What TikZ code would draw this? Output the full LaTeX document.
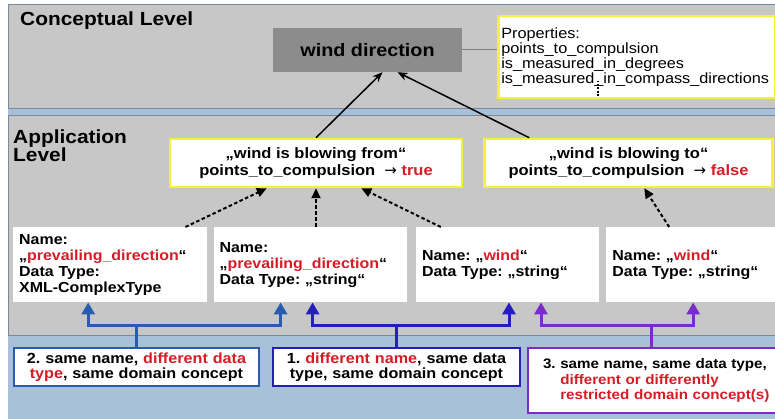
\documentclass[tikz,border=0pt]{standalone}
\usepackage{fontspec}
\setmainfont{Liberation Sans}[FakeStretch=1.1]
\newfontfamily\arrowfont{DejaVu Sans}
\usetikzlibrary{positioning,arrows.meta}
\definecolor{bgblue}{RGB}{168,192,218}
\definecolor{panelgray}{RGB}{199,199,199}
\definecolor{panelline}{RGB}{122,136,156}
\definecolor{conceptgray}{RGB}{140,140,140}
\definecolor{boxyellow}{RGB}{244,242,60}
\definecolor{hired}{RGB}{214,28,38}
\definecolor{linkblue}{RGB}{40,92,172}
\definecolor{linkindigo}{RGB}{36,30,186}
\definecolor{linkviolet}{RGB}{122,44,200}
\newcommand{\hl}[1]{\textcolor{hired}{#1}}
\newcommand{\qt}[1]{„#1“}
\newcommand{\fs}[2]{\fontsize{#1}{#2}\selectfont}
\newcommand{\implies}{{\arrowfont\mdseries →}}
\frenchspacing

\begin{document}
\begin{tikzpicture}[x=1pt,y=-1pt,
  level/.style={fill=panelgray,draw=panelline,line width=1pt},
  leveltitle/.style={anchor=north west,inner sep=0pt,align=left,font=\bfseries\fs{19}{18}},
  concept/.style={fill=conceptgray,minimum width=189pt,minimum height=44pt,font=\bfseries\fs{18}{20}},
  propbox/.style={draw=boxyellow,fill=white,line width=2.5pt,anchor=north west,align=left,
    inner xsep=3pt,text width=271pt,minimum height=82pt,font=\fs{14.8}{15}},
  claim/.style={draw=boxyellow,fill=white,line width=2.5pt,align=center,minimum height=48pt,
    font=\bfseries\fs{15}{16.5}},
  databox/.style={fill=white,anchor=north west,align=left,inner xsep=6pt,minimum height=75pt,
    text width=#1,font=\bfseries\fs{14.5}{16}},
  casebox/.style={draw=#1,fill=white,line width=2pt,anchor=north west,font=\bfseries\fs{14.7}{15.5}},
  sem/.style={line width=1.5pt,-{Stealth[length=10pt,width=8pt]}},
  impl/.style={line width=2pt,dash pattern=on 3.5pt off 2.5pt,-{Triangle[length=10pt,width=9pt]}},
  link/.style={draw=#1,line width=3pt,-{Triangle[length=12pt,width=13pt]}}]
\useasboundingbox (0,0) rectangle (775,419);
\fill[white] (0,0) rectangle (775,419);
\fill[bgblue] (8,5) rectangle (775,419);
\draw[level] (8,5) rectangle (777,109);
\draw[level] (8,116) rectangle (777,335);

% conceptual level
\node[leveltitle] (cl) at (20,12) {Conceptual Level};
\node[concept] (wd) at (367.5,50) {wind direction};
\node[propbox] (prop) at (497,15) {Properties:\\points\_to\_compulsion\\is\_measured\_in\_degrees\\
  is\_measured\_in\_compass\_directions};
\draw[line width=1pt,gray] (wd.east) -- (wd.east -| prop.west);
\draw[line width=2.5pt,dash pattern=on 2pt off 1.5pt] ([xshift=101pt,yshift=3pt]prop.south west) -- ++(0,-15);

% application level
\node[leveltitle] (al) at (13,130) {Application\\Level};
\node[claim,minimum width=292pt] (from) at (316,163) {\qt{wind is blowing from}\\
  points\_to\_compulsion \ \implies\ \hl{true}};
\node[claim,minimum width=288pt,right=20pt of from] (to) {\qt{wind is blowing to}\\
  points\_to\_compulsion \ \implies\ \hl{false}};
\draw[sem] (from.north) -- ([xshift=15pt]wd.south);
\draw[sem] ([xshift=46pt]to.north west) -- ([xshift=30pt]wd.south);

\node[databox=182pt] (d1) at (13,227) {Name:\\\qt{\hl{prevailing\_direction}}\\Data Type:\\XML-ComplexType};
\node[databox=181pt,right=6pt of d1] (d2) {Name:\\\qt{\hl{prevailing\_direction}}\\Data Type: \qt{string}};
\node[databox=171pt,right=9pt of d2] (d3) {Name: \qt{\hl{wind}}\\Data Type: \qt{string}};
\node[databox=190pt,right=7pt of d3] (d4) {Name: \qt{\hl{wind}}\\Data Type: \qt{string}};
\draw[impl] ([xshift=-22pt]d1.north east) -- ([xshift=98pt]from.south west);
\draw[impl] (d2.north -| from.south) -- (from.south);
\draw[impl] ([xshift=25pt]d3.north west) -- ([xshift=-102pt]from.south east);
\draw[impl] ([xshift=63pt]d4.north west) -- ([xshift=161pt]to.south west);

% kinds of heterogeneity
\node[casebox=linkblue,text width=237pt,align=center,inner xsep=4pt,minimum height=38pt] (b2) at (13,347)
  {2. same name, \hl{different data}\\\hl{type}, same domain concept};
\node[casebox=linkindigo,text width=239pt,align=center,inner xsep=4pt,minimum height=38pt,right=12pt of b2] (b1)
  {1. \hl{different name}, same data\\type, same domain concept};
\node[casebox=linkviolet,text width=262pt,align=left,inner xsep=15pt,minimum height=65pt,
  right=6pt of b1.north east,anchor=north west,font=\bfseries\fs{13.8}{15.5}] (b3)
  {3. same name, same data type,\\\phantom{3. }\hl{different or differently}\\
  \phantom{3. }\hl{restricted domain concept(s)}};

\coordinate (j2) at ([yshift=22pt]b2.north);
\draw[link=linkblue] (b2.north) -- (j2) -| ([xshift=-22pt]d1.south);
\draw[link=linkblue] (j2) -| ([xshift=-29.5pt]d2.south);
\coordinate (j1) at ([yshift=22pt]b1.north);
\draw[link=linkindigo] (b1.north) -- (j1) -| ([xshift=2.5pt]d2.south);
\draw[link=linkindigo] (j1) -| ([xshift=1.5pt]d3.south);
\coordinate (j3) at ([xshift=124pt,yshift=22pt]b3.north west);
\draw[link=linkviolet] ([xshift=124pt]b3.north west) -- (j3) -| ([xshift=33.5pt]d3.south);
\draw[link=linkviolet] (j3) -| ([xshift=87pt]d4.south west);
\end{tikzpicture}
\end{document}
